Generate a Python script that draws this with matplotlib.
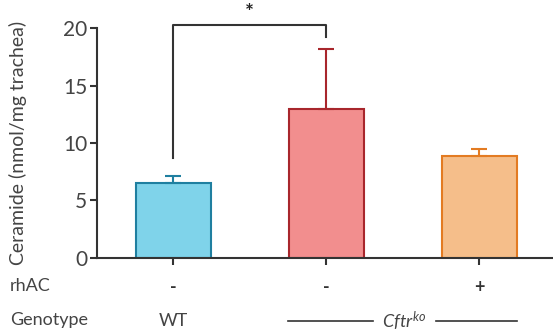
import matplotlib
matplotlib.use("Agg")
import matplotlib.pyplot as plt

categories = ["WT", "Cftr ko", "Cftr ko + rhAC"]
values = [6.5, 12.95, 8.85]
errors = [0.6, 5.25, 0.6]
rhac_labels = ["-", "-", "+"]
yticks = [0, 5, 10, 15, 20]
fill_colors = ["#7fd3ea", "#f28e8e", "#f5be8a"]
edge_colors = ["#1f7fa0", "#a8262c", "#e37b22"]

plt.rcParams['font.family'] = ['Lato', 'DejaVu Sans']
plt.rcParams['mathtext.fontset'] = 'custom'
plt.rcParams['mathtext.it'] = 'Lato:italic'
plt.rcParams['mathtext.rm'] = 'Lato'
fig = plt.figure(figsize=(5.53, 3.35), dpi=100)
ax = fig.add_axes([0.1754, 0.2299, 0.8291, 0.6865])

x = list(range(len(values)))
for i in x:
    ax.bar(i, values[i], width=0.49, color=fill_colors[i], edgecolor=edge_colors[i],
           linewidth=1.5, zorder=2)
    ax.errorbar(i, values[i], yerr=[[0], [errors[i]]], fmt='none', ecolor=edge_colors[i],
                elinewidth=1.5, capsize=6, capthick=1.5, zorder=3)

ax.set_xlim(-0.5, 2.5)
ax.set_ylim(0, 20)
ax.set_yticks(yticks)
ax.set_xticks(x)
ax.set_xticklabels([])
for s in ['top', 'right']:
    ax.spines[s].set_visible(False)
for s in ['left', 'bottom']:
    ax.spines[s].set_color('#333333')
    ax.spines[s].set_linewidth(1.5)
ax.tick_params(axis='y', length=5, width=1.5, color='#333333', labelsize=15,
               labelcolor='#444444', pad=2)
ax.tick_params(axis='x', length=5, width=1.5, color='#333333')
ax.set_ylabel("Ceramide (nmol/mg trachea)", fontsize=14, color='#444444', labelpad=26)

# significance bracket
ax.plot([0, 0, 1, 1], [8.7, 20.25, 20.25, 19.2], color='#333333', lw=1.5, clip_on=False)
ax.text(0.5, 20.45, "*", ha='center', va='bottom', fontsize=15, fontweight='bold', color='#222222')

# rhAC row
trans = ax.get_xaxis_transform()
for i in x:
    ax.text(i, -0.13, rhac_labels[i], transform=trans, ha='center', va='center',
            fontsize=13, fontweight='bold', color='#333333', clip_on=False)
fig.text(10 / 553, 1 - 286 / 335, "rhAC", ha='left', va='center', fontsize=13, color='#444444')
fig.text(10 / 553, 1 - 320 / 335, "Genotype", ha='left', va='center', fontsize=13, color='#444444')
ax.text(0, -0.275, "WT", transform=trans, ha='center', va='center', fontsize=13, color='#444444')
ax.text(1.51, -0.275, r"$\mathit{Cftr}^{\mathit{ko}}$", transform=trans, ha='center', va='center',
        fontsize=13, color='#444444')
ax.plot([0.752, 1.307], [-0.275, -0.275], transform=trans, color='#333333', lw=1.2, clip_on=False)
ax.plot([1.719, 2.248], [-0.275, -0.275], transform=trans, color='#333333', lw=1.2, clip_on=False)

fig.savefig("out.png", dpi=100)
